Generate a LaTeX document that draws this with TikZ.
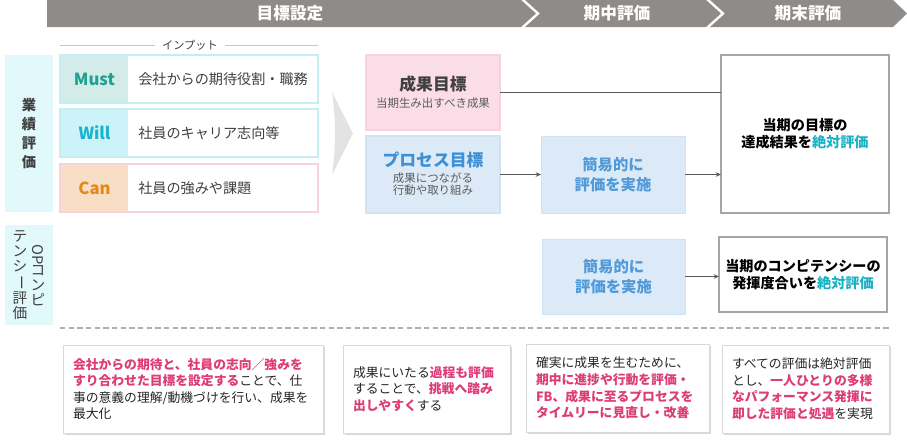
\documentclass[tikz,border=0pt]{standalone}
\usepackage{fontspec}
\setmainfont{Noto Sans CJK JP}
\usetikzlibrary{arrows.meta, shadows}

\definecolor{kopfgrau}{HTML}{8F8B88}
\definecolor{etikett}{HTML}{E1F9FB}
\definecolor{mustgrund}{HTML}{D3ECEA}
\definecolor{musttext}{HTML}{1FA192}
\definecolor{willgrund}{HTML}{CBF3F8}
\definecolor{willtext}{HTML}{19B4CF}
\definecolor{cangrund}{HTML}{F9DEC6}
\definecolor{cantext}{HTML}{E38A1C}
\definecolor{cyanrand}{HTML}{C5EEF3}
\definecolor{rosarand}{HTML}{F8D3DE}
\definecolor{rosagrund}{HTML}{FADDE7}
\definecolor{blaugrund}{HTML}{DBEAF6}
\definecolor{blaurand}{HTML}{CDE4F4}
\definecolor{blautext}{HTML}{3D8FD6}
\definecolor{ergebnisrand}{HTML}{A6A6A6}
\definecolor{tuerkis}{HTML}{1BB1C5}
\definecolor{pinkrot}{HTML}{DE3C77}
\definecolor{pfeilgrau}{HTML}{595959}
\definecolor{strichgrau}{HTML}{B0B0B0}
\definecolor{keilgrau}{HTML}{E3E3E3}
\definecolor{dunkel}{HTML}{404040}
\definecolor{rahmengrau}{HTML}{D9D9D9}

\newcommand\betont[1]{\textcolor{pinkrot}{\bfseries #1}}
\newcommand\absolut[1]{\textcolor{tuerkis}{#1}}

\def\u{0.75pt}

\tikzset{
    feld/.style={anchor=north west, inner sep=0pt, outer sep=0pt, align=center},
    zeile/.style={feld, fill=white, line width=0.8pt},
    zelle/.style={feld, font=\fontsize{12.5}{14}\selectfont\bfseries},
    zeilentext/.style={anchor=west, inner sep=0pt, text=dunkel, font=\fontsize{10.6}{12}\selectfont},
    ziel/.style={feld, line width=0.8pt},
    titel/.style={font=\fontsize{12.6}{15}\selectfont\bfseries},
    unter/.style={text=dunkel!85, font=\fontsize{8.6}{9.4}\selectfont},
    ergebnis/.style={feld, draw=ergebnisrand, fill=white, line width=1.1pt, font=\fontsize{10.6}{12.8}\selectfont\bfseries},
    kurz/.style={feld, fill=blaugrund, draw=blaurand, line width=0.6pt, text=blautext!90!white, font=\fontsize{11.5}{15}\selectfont\bfseries},
    linie/.style={draw=pfeilgrau, line width=0.8pt},
    pfeil/.style={linie, -{Stealth[length=4pt,width=3.5pt]}},
    notiz/.style={feld, draw=rahmengrau, fill=white, align=left, inner xsep=7.5pt, text=black!85,
        font=\fontsize{9.6}{12.4}\selectfont,
        drop shadow={shadow xshift=1.2pt, shadow yshift=-1.2pt, opacity=0.3}},
}

\begin{document}
\begin{tikzpicture}[x=0.75pt, y=-0.75pt]
\useasboundingbox (0,0) rectangle (907,446);

% Kopfleiste
\fill[kopfgrau] (47,0) -- (521,0) -- (536,13.5) -- (521,27) -- (47,27) -- cycle;
\fill[kopfgrau] (525,0) -- (706,0) -- (721,13.5) -- (706,27) -- (525,27) -- (540,13.5) -- cycle;
\fill[kopfgrau] (710,0) -- (893,0) -- (907,13.5) -- (893,27) -- (710,27) -- (725,13.5) -- cycle;
\node[text=white, font=\fontsize{12.5}{14}\selectfont\bfseries] (kopfZiel) at (290,13.5) {目標設定};
\node[text=white, font=\fontsize{12.5}{14}\selectfont\bfseries] (kopfMitte) at (617,13.5) {期中評価};
\node[text=white, font=\fontsize{12.5}{14}\selectfont\bfseries] (kopfEnde) at (808,13.5) {期末評価};

% Seitliche Etiketten
\node[feld, fill=etikett, minimum width=48*\u, minimum height=157*\u] (gyoseki) at (5,55) {};
\node[text=dunkel, align=center, inner sep=0pt, font=\fontsize{10.7}{14.2}\selectfont\bfseries] (gyosekiText) at (gyoseki.center) {業\\績\\評\\価};
\node[feld, fill=etikett, minimum width=48*\u, minimum height=100*\u] (op) at (5,225) {};
\node[text=dunkel, align=center, inner sep=0pt, font=\fontsize{11}{11.3}\selectfont] (opRechts) at (38,275)
    {\rotatebox[origin=c]{-90}{OP}\\コ\\ン\\ピ};
\node[text=dunkel, align=center, inner sep=0pt, font=\fontsize{11}{11.3}\selectfont] (opLinks) at (20,275)
    {テ\\ン\\シ\\\rotatebox[origin=c]{-90}{ー}\\評\\価};

% Inputs
\node[text=dunkel, font=\fontsize{8.4}{10}\selectfont, inner sep=0pt] (input) at (190,45) {インプット};
\draw[rahmengrau!80!gray, line width=0.6pt] (60,45) -- ([xshift=-5pt]input.west);
\draw[rahmengrau!80!gray, line width=0.6pt] ([xshift=5pt]input.east) -- (318,45);

\node[zeile, draw=cyanrand, minimum width=258*\u, minimum height=48*\u] (must) at (60,55) {};
\node[zelle, fill=mustgrund, text=musttext, minimum width=67*\u, minimum height=46*\u] (mustZelle) at (61,56) {Must};
\node[zeilentext] (mustText) at (138,79) {会社からの期待役割・職務};

\node[zeile, draw=cyanrand, minimum width=258*\u, minimum height=48*\u] (will) at (60,109) {};
\node[zelle, fill=willgrund, text=willtext, minimum width=67*\u, minimum height=46*\u] (willZelle) at (61,110) {Will};
\node[zeilentext] (willText) at (138,133) {社員のキャリア志向等};

\node[zeile, draw=rosarand, minimum width=258*\u, minimum height=48*\u] (can) at (60,164) {};
\node[zelle, fill=cangrund, text=cantext, minimum width=67*\u, minimum height=46*\u] (canZelle) at (61,165) {Can};
\node[zeilentext] (canText) at (138,188) {社員の強みや課題};

% Keil
\fill[keilgrau] (332,92) .. controls (336,120) and (336,146) .. (332,175) -- (353,133.5) -- cycle;

% Ziele
\node[ziel, fill=rosagrund, draw=rosarand, minimum width=134*\u, minimum height=75*\u] (seika) at (366,55) {};
\node[titel, text=dunkel] (seikaTitel) at (433,84) {成果目標};
\node[unter] (seikaUnter) at (433,103) {当期生み出すべき成果};

\node[ziel, fill=blaugrund, draw=blaurand, minimum width=134*\u, minimum height=77*\u] (prozess) at (366,136) {};
\node[titel, text=blautext] (prozessTitel) at (433,160) {プロセス目標};
\node[unter, align=center] (prozessUnter) at (433,184) {成果につながる\\行動や取り組み};

% Zwischenbewertung
\node[kurz, minimum width=144*\u, minimum height=77*\u] (kurz1) at (541,136) {簡易的に\\評価を実施};
\node[kurz, minimum width=143*\u, minimum height=75*\u] (kurz2) at (542,239) {簡易的に\\評価を実施};

% Endbewertung
\node[ergebnis, minimum width=168*\u, minimum height=158*\u] (ergebnis1) at (721,55)
    {当期の目標の\\達成結果を\absolut{絶対評価}};
\node[ergebnis, minimum width=168*\u, minimum height=75*\u] (ergebnis2) at (719,237)
    {当期のコンピテンシーの\\発揮度合いを\absolut{絶対評価}};

% Verbindungen
\draw[linie] (seika.east) -- (seika.east -| ergebnis1.west);
\draw[pfeil] (prozess.east) -- (kurz1.west);
\draw[pfeil] (kurz1.east) -- (kurz1.east -| ergebnis1.west);
\draw[pfeil] (kurz2.east) -- (kurz2.east -| ergebnis2.west);

% Trennlinie
\draw[strichgrau, line width=1.2pt, dash pattern=on 4pt off 2.5pt] (60,328) -- (890,328);

% Erlaeuterungen
\node[notiz, text width=240*\u, minimum height=88*\u] (notiz1) at (63,345)
    {\betont{会社からの期待と、社員の志向／強みを}\\
     \betont{すり合わせた目標を設定する}ことで、仕\\
     事の意義の理解/動機づけを行い、成果を\\
     最大化};
\node[notiz, text width=147*\u, minimum height=88*\u] (notiz2) at (343,345)
    {成果にいたる\betont{過程も評価}\\
     することで、\betont{挑戦へ踏み}\\
     \betont{出しやすく}する};
\node[notiz, text width=163*\u, minimum height=88*\u] (notiz3) at (526,344)
    {確実に成果を生むために、\\
     \betont{期中に進捗や行動を評価・}\\
     \betont{FB、成果に至るプロセスを}\\
     \betont{タイムリーに見直し・改善}};
\node[notiz, text width=147*\u, minimum height=88*\u] (notiz4) at (722,345)
    {すべての評価は絶対評価\\
     とし、\betont{一人ひとりの多様}\\
     \betont{なパフォーマンス発揮に}\\
     \betont{即した評価と処遇}を実現};
\end{tikzpicture}
\end{document}
